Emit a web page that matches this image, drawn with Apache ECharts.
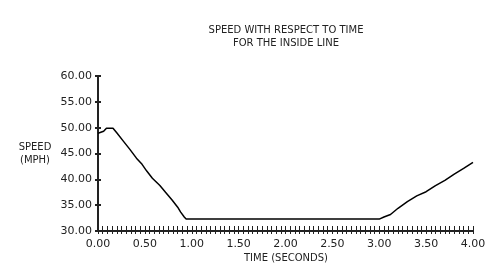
<!DOCTYPE html>
<html>
<head>
<meta charset="utf-8">
<script src="https://cdn.jsdelivr.net/npm/echarts@6/dist/echarts.min.js"></script>
<style>
html,body{margin:0;padding:0;background:#fff;}
#c{width:500px;height:274px;}
</style>
</head>
<body>
<div id="c"></div>
<script>
var titleLines = ["SPEED WITH RESPECT TO TIME", "FOR THE INSIDE LINE"];
var yName = ["SPEED", "(MPH)"];
var xName = "TIME (SECONDS)";
var timeSec = [0.00,0.03,0.06,0.09,0.16,0.20,0.27,0.34,0.41,0.47,0.52,0.58,0.66,0.72,0.79,0.85,0.88,0.92,0.94,3.00,3.05,3.12,3.20,3.30,3.40,3.50,3.60,3.70,3.80,3.90,4.00];
var speedMph = [48.9,49.1,49.3,49.9,49.9,49.0,47.4,45.8,44.1,42.9,41.6,40.2,38.8,37.5,36.0,34.6,33.7,32.7,32.3,32.3,32.7,33.2,34.4,35.7,36.8,37.6,38.8,39.8,41.0,42.1,43.3];
var xMin = 0, xMax = 4, xStep = 0.5;
var yMin = 30, yMax = 60, yStep = 5;

var pts = timeSec.map(function(t, i){ return [t, speedMph[i]]; });
var font = "DejaVu Sans";
var chart = echarts.init(document.getElementById('c'), null, {renderer:'canvas'});
chart.setOption({
  animation:false,
  backgroundColor:'#fff',
  grid:{left:98, right:27, top:76, bottom:43},
  graphic:[
    {type:'text', x:286, y:24, style:{text:titleLines.join('\n'), fontFamily:font, fontSize:10, fill:'#222', align:'center', lineHeight:13}},
    {type:'text', x:35, y:141, style:{text:yName.join('\n'), fontFamily:font, fontSize:10, fill:'#222', align:'center', lineHeight:13}},
    {type:'text', x:286, y:253, style:{text:xName, fontFamily:font, fontSize:10, fill:'#222', align:'center'}}
  ],
  xAxis:[{
    type:'value', min:xMin, max:xMax, interval:xStep,
    axisLine:{show:true, onZero:false, lineStyle:{color:'#222', width:2}},
    axisTick:{show:true, inside:true, length:5, lineStyle:{color:'#222', width:1}},
    minorTick:{show:true, splitNumber:10, length:5, lineStyle:{color:'#222', width:1}},
    axisLabel:{fontFamily:font, fontSize:11, color:'#222', margin:8, formatter:function(v){return v.toFixed(2);}},
    splitLine:{show:false}
  },{
    type:'value', min:xMin, max:xMax, interval:xStep, position:'bottom',
    axisLine:{show:false, onZero:false},
    axisTick:{show:true, inside:false, length:3, lineStyle:{color:'#222', width:1}},
    minorTick:{show:true, splitNumber:10, length:3, lineStyle:{color:'#222', width:1}},
    axisLabel:{show:false},
    splitLine:{show:false}
  }],
  yAxis:[{
    type:'value', min:yMin, max:yMax, interval:yStep,
    axisLine:{show:true, onZero:false, lineStyle:{color:'#222', width:2}},
    axisTick:{show:true, inside:false, length:3, lineStyle:{color:'#222', width:2}},
    axisLabel:{fontFamily:font, fontSize:11, color:'#222', margin:6, formatter:function(v){return v.toFixed(2);}},
    splitLine:{show:false}
  },{
    type:'value', min:yMin, max:yMax, interval:yStep, position:'left',
    axisLine:{show:false},
    axisTick:{show:true, inside:true, length:3, lineStyle:{color:'#222', width:2}},
    axisLabel:{show:false},
    splitLine:{show:false}
  }],
  series:[{
    type:'line', data:pts, showSymbol:false, symbol:'none',
    lineStyle:{color:'#000', width:1.5}
  }]
});
</script>
</body>
</html>
